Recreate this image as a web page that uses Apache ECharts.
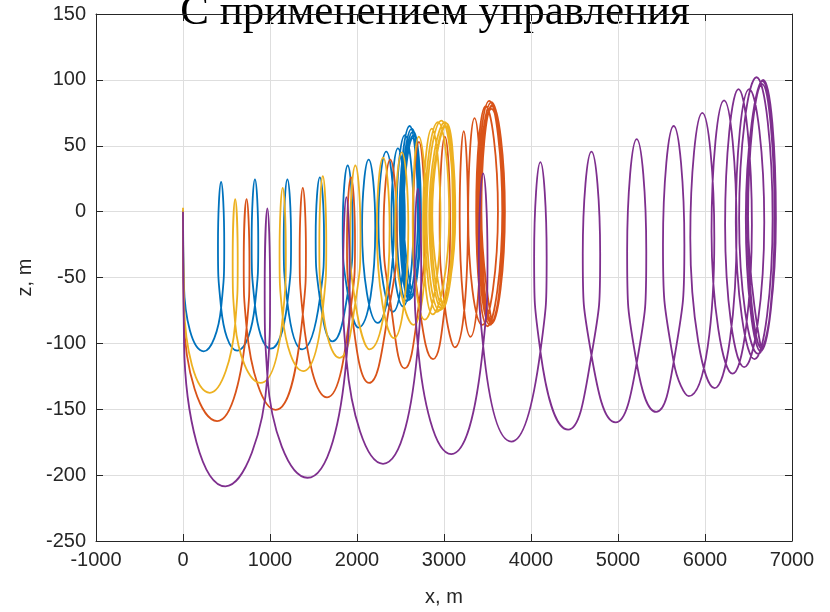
<!DOCTYPE html>
<html>
<head>
<meta charset="utf-8">
<script src="https://cdn.jsdelivr.net/npm/echarts@6/dist/echarts.min.js"></script>
<style>
  html, body { margin: 0; padding: 0; background: #fff; }
  #chart { width: 830px; height: 612px; }
</style>
</head>
<body>
<div id="chart"></div>
<script>
// траектории (x, z), точки: впадины, пересечения петель, бока и вершины петель
var titleText = 'С применением управления'
var xName = 'x, m'
var zName = 'z, m'
var lineColors = ['#0072BD', '#D95319', '#EDB120', '#7E2F8E']

var bluePath = [
  [0, 1], [10, -55],
  [238, -106], [438, -73], [474, -25], [438, 22.5], [402, -25], [438, -73],
  [623, -105.5], [827, -71], [865, -23], [827, 24.5], [789, -23], [827, -71],
  [1008, -104], [1200, -69], [1242, -22], [1200, 24.5], [1158, -22], [1200, -69],
  [1370, -104.5], [1573, -66], [1621, -19], [1573, 26], [1525, -19], [1573, -66],
  [1720, -98.5], [1893, -62], [1950, -13], [1893, 35], [1836, -13], [1893, -62],
  [2015, -88], [2210, -12], [2134, 39.5], [2058, -12],
  [2237, -84.5], [2426, -8], [2336, 45.5], [2246, -8],
  [2414, -76], [2550, -6], [2470, 48], [2395, -6],
  [2530, -72], [2650, -4], [2550, 58], [2455, -4],
  [2570, -68], [2700, -2], [2605, 65], [2490, -2],
  [2600, -67], [2725, -2], [2630, 63], [2505, -2],
  [2615, -66], [2735, -2], [2645, 61], [2515, -2],
  [2625, -65], [2730, -2], [2650, 58], [2525, -2],
  [2630, -63], [2720, -2], [2645, 56], [2535, -2],
  [2625, -60]
]

var orangePath = [
  [0, 0], [10, -80],
  [392, -159], [731, -88], [764, -40], [731, 9.5], [698, -40], [731, -88],
  [1065, -150.5], [1377, -78], [1413, -30], [1377, 18], [1341, -30], [1377, -78],
  [1656, -141], [1931, -72], [1977, -23], [1931, 26], [1885, -23], [1931, -72],
  [2140, -130], [2382, -68], [2458, -14], [2382, 39.5], [2306, -14], [2382, -68],
  [2548, -119], [2712, -70], [2780, -9], [2712, 53], [2644, -9], [2712, -70],
  [2874, -112], [3010, -72], [3070, -6], [3010, 57], [2950, -6], [3010, -72],
  [3123, -103], [3275, -4], [3227, 61], [3180, -4],
  [3305, -95], [3427, -2], [3351, 71], [3278, -2],
  [3440, -86], [3620, 0], [3480, 80], [3370, 0],
  [3500, -87], [3670, 0], [3520, 84], [3385, 0],
  [3530, -86], [3695, 0], [3545, 83], [3400, 0],
  [3545, -85], [3700, 0], [3555, 81], [3415, 0],
  [3550, -84], [3695, 0], [3552, 80], [3425, 0],
  [3550, -83], [3685, 0], [3545, 78], [3430, 0],
  [3545, -82]
]

var yellowPath = [
  [0, 3], [12, -70],
  [308, -137.5], [600, -85], [629, -38], [600, 9.5], [571, -38], [600, -85],
  [892, -130], [1146, -80], [1182, -31], [1146, 18], [1110, -31], [1146, -80],
  [1382, -121], [1607, -74], [1647, -24], [1607, 27], [1567, -24], [1607, -74],
  [1800, -111], [1981, -69], [2040, -17], [1981, 35], [1922, -17], [1981, -69],
  [2145, -104.5], [2375, -13], [2300, 41], [2228, -13],
  [2425, -96], [2590, -12], [2515, 45], [2440, -12],
  [2650, -86], [2800, -8], [2710, 57], [2640, -8],
  [2780, -82], [2960, -6], [2860, 63], [2760, -6],
  [2870, -78], [3060, -4], [2930, 68], [2780, -4],
  [2920, -76], [3110, -3], [2970, 69], [2800, -3],
  [2950, -75], [3130, -3], [3010, 68], [2830, -3],
  [2975, -74], [3120, -3], [3030, 67], [2850, -3],
  [2990, -73], [3100, -3], [3020, 65], [2865, -3],
  [2985, -72]
]

var purplePath = [
  [0, 0], [12, -100],
  [488, -208.5], [970, -125], [1001, -60], [970, 2.5], [939, -60], [970, -125],
  [1430, -202], [1878, -112], [1916, -52], [1878, 11], [1840, -52], [1878, -112],
  [2299, -191.4], [2700, -102], [2738, -42], [2700, 17.5], [2662, -42], [2700, -102],
  [3084, -184], [3450, -102], [3500, -36], [3450, 29], [3400, -36], [3450, -102],
  [3774, -174.5], [4108, -106], [4180, -34], [4108, 37.5], [4036, -34], [4108, -106],
  [4427, -165.5], [4695, -109], [4795, -32], [4695, 45.5], [4595, -32], [4695, -109],
  [4973, -160], [5215, -115], [5325, -30], [5215, 55], [5105, -30], [5215, -115],
  [5439, -152], [5640, -114], [5763, -25], [5640, 65], [5517, -25], [5640, -114],
  [5813, -140], [6107, -20], [5969, 75], [5831, -20],
  [6110, -134], [6363, -15], [6219, 84.5], [6075, -15],
  [6317, -123], [6539, -10], [6385, 93], [6231, -10],
  [6450, -118], [6681, -8], [6508, 93], [6354, -8],
  [6570, -112], [6777, -5], [6592, 102], [6392, -5],
  [6610, -108], [6815, -5], [6669, 100], [6469, -5],
  [6640, -106], [6810, -5], [6660, 99], [6490, -5],
  [6650, -104], [6800, -4], [6655, 97], [6495, -4],
  [6640, -102]
]

var chart = echarts.init(document.getElementById('chart'))
var textColor = '#262626'
var labelFont = { color: textColor, fontFamily: 'Liberation Sans', fontSize: 20 }
var plain = function (v) { return String(v) }

function makeLine(data, color) {
  return {
    type: 'line',
    data: data,
    smooth: 0.5,
    symbol: 'none',
    clip: true,
    lineStyle: { color: color, width: 1.8 },
    emphasis: { disabled: true }
  }
}

chart.setOption({
  animation: false,
  backgroundColor: '#fff',
  graphic: [{
    type: 'text',
    x: 435,
    y: 13,
    style: {
      text: titleText,
      font: '43px "Liberation Serif"',
      fill: '#000',
      textAlign: 'center',
      textVerticalAlign: 'middle'
    }
  }],
  grid: { left: 96, right: 38, top: 14, bottom: 66, show: false },
  xAxis: [{
    type: 'value', min: -1000, max: 7000, interval: 1000,
    name: xName, nameLocation: 'middle', nameGap: 46,
    nameTextStyle: labelFont,
    axisLine: { show: true, onZero: false, lineStyle: { color: textColor, width: 1 } },
    axisTick: { show: true, inside: true, length: 7, lineStyle: { color: textColor } },
    axisLabel: Object.assign({ margin: 9, formatter: plain }, labelFont),
    splitLine: { show: true, lineStyle: { color: '#dedede', width: 1 } }
  }, {
    type: 'value', min: -1000, max: 7000, interval: 1000, position: 'top',
    axisLine: { show: true, onZero: false, lineStyle: { color: textColor, width: 1 } },
    axisTick: { show: true, inside: true, length: 7, lineStyle: { color: textColor } },
    axisLabel: { show: false }, splitLine: { show: false }
  }],
  yAxis: [{
    type: 'value', min: -250, max: 150, interval: 50,
    name: zName, nameLocation: 'middle', nameGap: 53, nameRotate: 90,
    nameTextStyle: labelFont,
    axisLine: { show: true, onZero: false, lineStyle: { color: textColor, width: 1 } },
    axisTick: { show: true, inside: true, length: 7, lineStyle: { color: textColor } },
    axisLabel: Object.assign({ margin: 10, formatter: plain }, labelFont),
    splitLine: { show: true, lineStyle: { color: '#dedede', width: 1 } }
  }, {
    type: 'value', min: -250, max: 150, interval: 50, position: 'right',
    axisLine: { show: true, onZero: false, lineStyle: { color: textColor, width: 1 } },
    axisTick: { show: true, inside: true, length: 7, lineStyle: { color: textColor } },
    axisLabel: { show: false }, splitLine: { show: false }
  }],
  series: [
    makeLine(bluePath, lineColors[0]),
    makeLine(orangePath, lineColors[1]),
    makeLine(yellowPath, lineColors[2]),
    makeLine(purplePath, lineColors[3])
  ]
})
</script>
</body>
</html>
